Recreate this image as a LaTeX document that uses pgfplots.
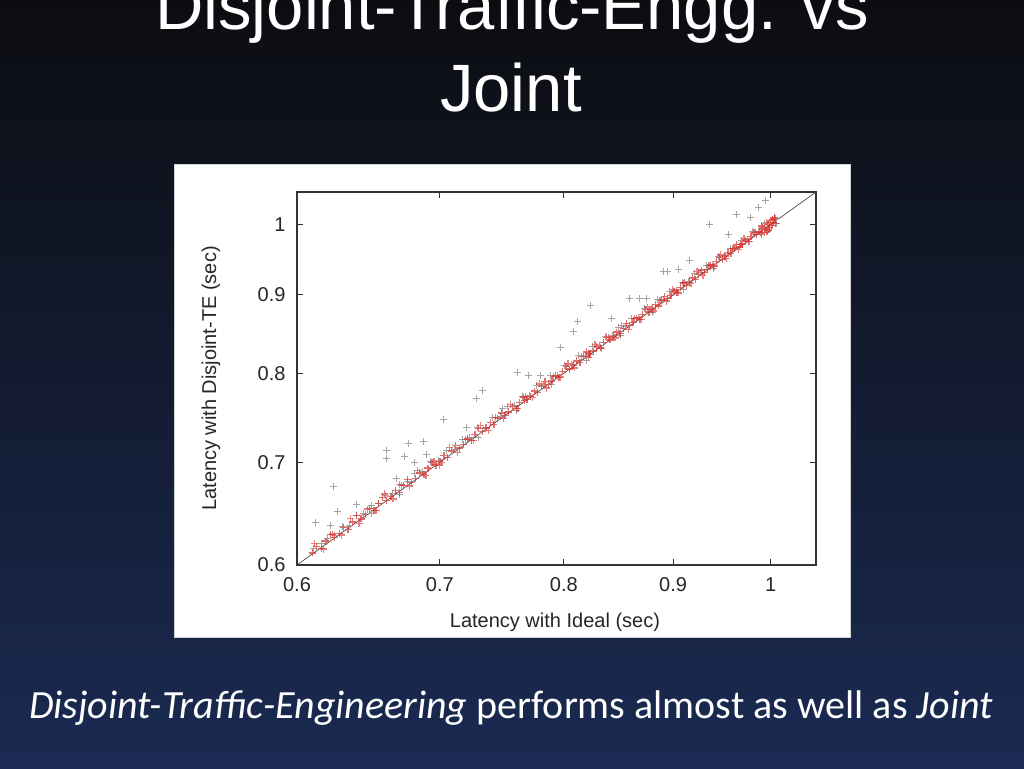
\documentclass[border=0pt]{standalone}
\usepackage{pgfplots}
\pgfplotsset{compat=1.18}
\usepackage{fontspec}
\setmainfont{Liberation Sans}
\newfontfamily\calibri{Carlito}
\definecolor{bgtop}{HTML}{0C0D11}
\definecolor{bgmid}{HTML}{141C36}
\definecolor{bgbot}{HTML}{1A2A52}
\definecolor{ptred}{HTML}{D8302C}
\definecolor{ptgray}{HTML}{A4A4A4}
\definecolor{axgray}{HTML}{333333}
\begin{document}
\begin{tikzpicture}
\useasboundingbox (0pt,0pt) rectangle (1024pt,768pt);
\clip (0pt,0pt) rectangle (1024pt,768pt);
\shade[top color=bgtop, middle color=bgmid, bottom color=bgbot] (0pt,0pt) rectangle (1024pt,768pt);
\node[anchor=base, text=white, inner sep=0, font=\fontsize{67}{80}\selectfont] at (512pt,738pt) {Disjoint-Traffic-Engg. vs};
\node[anchor=base, text=white, inner sep=0, font=\fontsize{67}{80}\selectfont] at (511pt,656pt) {Joint};
\fill[white] (174pt,131pt) rectangle (850pt,604pt);
\draw[gray!35, line width=0.8pt] (174pt,131pt) rectangle (850pt,604pt);
\node[anchor=base, text=white, inner sep=0, font=\calibri\fontsize{40}{48}\selectfont] at (511pt,50pt) {\textit{Disjoint-Traffic-Engineering} performs almost as well as \textit{Joint}};
\begin{axis}[
  at={(297pt,203pt)}, anchor=south west,
  scale only axis, width=519pt, height=373pt,
  xmode=log, ymode=log,
  xmin=0.6, xmax=1.05, ymin=0.6, ymax=1.05,
  xtick={0.6,0.7,0.8,0.9,1}, xticklabels={0.6,0.7,0.8,0.9,1},
  ytick={0.6,0.7,0.8,0.9,1}, yticklabels={0.6,0.7,0.8,0.9,1},
  tick align=inside, major tick length=6pt,
  tick style={axgray, line width=0.8pt},
  axis line style={axgray, line width=1.2pt},
  ticklabel style={font=\fontsize{20}{24}\selectfont, text=black!85},
  xticklabel style={yshift=-9pt},
  yticklabel style={xshift=-8pt},
  xlabel={Latency with Ideal (sec)},
  ylabel={Latency with Disjoint-TE (sec)},
  label style={font=\fontsize{20}{24}\selectfont, text=black!85},
  xlabel style={at={(axis description cs:0.497,-0.155)}, anchor=center},
  ylabel style={at={(axis description cs:-0.166,0.5)}, anchor=center},
]
% gray series
\addplot[only marks, mark=+, mark size=3.5pt, ptgray, line width=1pt] coordinates {
(0.611,0.615) (0.616,0.620) (0.620,0.624) (0.625,0.627) (0.630,0.636) (0.635,0.637)
(0.640,0.646) (0.645,0.648) (0.650,0.656) (0.655,0.658) (0.660,0.666) (0.665,0.668)
(0.670,0.677) (0.676,0.680) (0.681,0.688) (0.687,0.690) (0.693,0.701) (0.699,0.702)
(0.705,0.712) (0.711,0.714) (0.717,0.724) (0.723,0.726) (0.729,0.737) (0.735,0.738)
(0.741,0.749) (0.747,0.750) (0.753,0.761) (0.759,0.762) (0.765,0.773) (0.771,0.774)
(0.777,0.785) (0.783,0.786) (0.789,0.797) (0.795,0.798) (0.801,0.809) (0.807,0.810)
(0.813,0.821) (0.819,0.822) (0.825,0.833) (0.831,0.834) (0.837,0.845) (0.843,0.846)
(0.849,0.857) (0.855,0.858) (0.861,0.869) (0.867,0.870) (0.873,0.881) (0.879,0.882)
(0.885,0.893) (0.891,0.894) (0.897,0.905) (0.903,0.906) (0.909,0.917) (0.915,0.918)
(0.921,0.929) (0.927,0.930) (0.933,0.941) (0.939,0.942) (0.945,0.953) (0.951,0.954)
(0.957,0.965) (0.963,0.966) (0.969,0.977) (0.975,0.978) (0.981,0.989) (0.987,0.990)
(0.993,1.001) (0.999,1.003) (1.004,1.008) (1.006,1.002)
(0.700,0.697) (0.760,0.757) (0.820,0.816) (0.880,0.876) (0.940,0.936) (0.650,0.648)
(0.990,0.985) (0.730,0.727) (0.850,0.847) (0.910,0.907) (0.790,0.787) (0.670,0.667)
(0.936,1.000) (0.964,1.015) (0.987,1.026) (0.994,1.036) (0.891,0.932) (0.895,0.932)
(0.916,0.948) (0.823,0.886) (0.812,0.864) (0.859,0.895) (0.868,0.895) (0.875,0.895)
(0.797,0.832) (0.761,0.801) (0.770,0.798) (0.733,0.780) (0.728,0.770) (0.703,0.746)
(0.677,0.720) (0.688,0.722) (0.661,0.713) (0.661,0.704) (0.674,0.706) (0.624,0.675)
(0.627,0.650) (0.612,0.640) (0.622,0.637) (0.668,0.683) (0.681,0.700) (0.749,0.759)
(0.955,0.985) (0.978,1.010) (0.842,0.868) (0.808,0.852) (0.905,0.935) (0.640,0.657)
(0.690,0.708) (0.720,0.737) (0.780,0.797)
};
% red series
\addplot[only marks, mark=+, mark size=3.5pt, ptred, opacity=0.7, line width=1.3pt] coordinates {
(0.610,0.611) (0.613,0.617) (0.616,0.615) (0.619,0.622) (0.622,0.628) (0.625,0.625)
(0.628,0.629) (0.631,0.635) (0.634,0.633) (0.637,0.640) (0.640,0.646) (0.643,0.643)
(0.646,0.647) (0.649,0.653) (0.652,0.651) (0.655,0.658) (0.658,0.664) (0.661,0.661)
(0.664,0.665) (0.667,0.671) (0.670,0.669) (0.673,0.676) (0.676,0.682) (0.679,0.679)
(0.682,0.683) (0.685,0.689) (0.688,0.687) (0.691,0.694) (0.694,0.700) (0.697,0.697)
(0.700,0.701) (0.703,0.707) (0.706,0.705) (0.709,0.712) (0.712,0.718) (0.715,0.715)
(0.718,0.719) (0.721,0.725) (0.724,0.723) (0.727,0.730) (0.730,0.736) (0.733,0.733)
(0.736,0.737) (0.739,0.743) (0.742,0.741) (0.745,0.748) (0.748,0.754) (0.751,0.751)
(0.754,0.755) (0.757,0.761) (0.760,0.759) (0.763,0.766) (0.766,0.772) (0.769,0.769)
(0.772,0.773) (0.775,0.779) (0.778,0.777) (0.781,0.784) (0.784,0.790) (0.787,0.787)
(0.790,0.791) (0.793,0.797) (0.796,0.795) (0.799,0.802) (0.802,0.808) (0.805,0.805)
(0.808,0.809) (0.811,0.815) (0.814,0.813) (0.817,0.820) (0.820,0.826) (0.823,0.823)
(0.826,0.827) (0.829,0.833) (0.832,0.831) (0.835,0.838) (0.838,0.844) (0.841,0.841)
(0.844,0.845) (0.847,0.851) (0.850,0.849) (0.853,0.856) (0.856,0.862) (0.859,0.859)
(0.862,0.863) (0.865,0.869) (0.868,0.867) (0.871,0.874) (0.874,0.880) (0.877,0.877)
(0.880,0.881) (0.883,0.887) (0.886,0.885) (0.889,0.892) (0.892,0.898) (0.895,0.895)
(0.898,0.899) (0.901,0.905) (0.904,0.903) (0.907,0.910) (0.910,0.916) (0.913,0.913)
(0.916,0.917) (0.919,0.923) (0.922,0.921) (0.925,0.928) (0.928,0.934) (0.931,0.931)
(0.934,0.935) (0.937,0.941) (0.940,0.939) (0.943,0.946) (0.946,0.952) (0.949,0.949)
(0.952,0.953) (0.955,0.959) (0.958,0.957) (0.961,0.964) (0.964,0.970) (0.967,0.967)
(0.970,0.971) (0.973,0.977) (0.976,0.975) (0.979,0.982) (0.982,0.988) (0.985,0.985)
(0.988,0.989) (0.991,0.995) (0.994,0.993) (0.997,1.000) (1.000,1.006) (1.003,1.003)
(1.005,1.001) (0.996,0.990) (0.999,0.996) (1.002,1.008) (0.990,0.998) (0.993,0.988)
(1.004,1.010) (0.998,0.992) (1.001,0.999) (0.767,0.768) (0.822,0.824) (0.968,0.970)
};
\addplot[only marks, mark=+, mark size=3.5pt, ptred, opacity=0.6, line width=1.3pt] coordinates {
(0.6115,0.6195) (0.6175,0.6145) (0.6235,0.6285) (0.6295,0.6275) (0.6355,0.6435) (0.6415,0.6385)
(0.6475,0.6525) (0.6535,0.6515) (0.6595,0.6675) (0.6655,0.6625) (0.6715,0.6765) (0.6775,0.6755)
(0.6835,0.6915) (0.6895,0.6865) (0.6955,0.7005) (0.7015,0.6995) (0.7075,0.7155) (0.7135,0.7105)
(0.7195,0.7245) (0.7255,0.7235) (0.7315,0.7395) (0.7375,0.7345) (0.7435,0.7485) (0.7495,0.7475)
(0.7555,0.7635) (0.7615,0.7585) (0.7675,0.7725) (0.7735,0.7715) (0.7795,0.7875) (0.7855,0.7825)
(0.7915,0.7965) (0.7975,0.7955) (0.8035,0.8115) (0.8095,0.8065) (0.8155,0.8205) (0.8215,0.8195)
(0.8275,0.8355) (0.8335,0.8305) (0.8395,0.8445) (0.8455,0.8435) (0.8515,0.8595) (0.8575,0.8545)
(0.8635,0.8685) (0.8695,0.8675) (0.8755,0.8835) (0.8815,0.8785) (0.8875,0.8925) (0.8935,0.8915)
(0.8995,0.9075) (0.9055,0.9025) (0.9115,0.9165) (0.9175,0.9155) (0.9235,0.9315) (0.9295,0.9265)
(0.9355,0.9405) (0.9415,0.9395) (0.9475,0.9555) (0.9535,0.9505) (0.9595,0.9645) (0.9655,0.9635)
(0.9715,0.9795) (0.9775,0.9745) (0.9835,0.9885) (0.9895,0.9875) (0.9955,1.0035) (1.0015,0.9985)
(1.0045,1.0095)
};
\addplot[no marks, black!70, line width=0.7pt] coordinates {(0.6,0.6) (1.05,1.05)};
\end{axis}
\end{tikzpicture}
\end{document}
